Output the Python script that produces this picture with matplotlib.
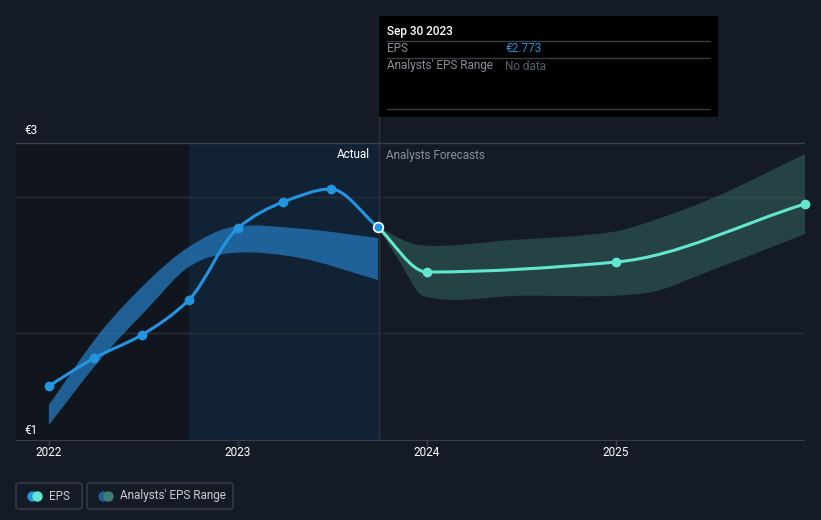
import numpy as np
import matplotlib.pyplot as plt
from matplotlib.path import Path
from matplotlib.patches import PathPatch, Rectangle, FancyBboxPatch

plt.rcParams['font.family'] = ['Roboto', 'DejaVu Sans']

# actual EPS (quarterly, fractional year)
actual_x = [2022.0, 2022.24, 2022.49, 2022.74, 2023.0, 2023.24, 2023.49, 2023.74]
actual_y = [1.369, 1.557, 1.711, 1.946, 2.430, 2.604, 2.691, 2.436]

# analyst forecast EPS
fc_x = [2023.74, 2024.0, 2025.0, 2026.0]
fc_y = [2.436, 2.134, 2.201, 2.591]

# past analyst range (read at a few dates)
past_rng_x = [2022.0, 2022.27, 2022.53, 2022.74, 2022.97, 2023.33, 2023.74]
past_hi = [1.242, 1.725, 2.081, 2.302, 2.436, 2.425, 2.362]
past_lo = [1.107, 1.544, 1.899, 2.168, 2.262, 2.228, 2.081]

# forecast analyst range
fc_rng_x = [2023.74, 2023.96, 2024.45, 2024.98, 2025.25, 2025.55, 2026.0]
fc_hi = [2.436, 2.315, 2.349, 2.403, 2.503, 2.651, 2.926]
fc_lo_x = [2023.74, 2023.86, 2023.98, 2024.49, 2025.16, 2025.51, 2026.0]
fc_lo = [2.436, 2.195, 1.973, 1.975, 1.993, 2.148, 2.389]

grid_y = [2.638, 1.725]
year_ticks = [2022, 2023, 2024, 2025]

BG = '#151b26'
BLUE = '#2394df'
TEAL = '#63e6d0'


def tangents(xs, ys, monotone):
    h = np.diff(xs)
    d = np.diff(ys) / h
    m = np.zeros_like(ys)
    m[0], m[-1] = d[0], d[-1]
    for i in range(1, len(xs) - 1):
        if monotone:
            if d[i - 1] * d[i] <= 0:
                m[i] = 0
            else:
                m[i] = 2 / (1 / d[i - 1] + 1 / d[i])
        else:
            m[i] = (ys[i + 1] - ys[i - 1]) / (xs[i + 1] - xs[i - 1])
    return m


def smooth_verts(xs, ys, monotone=True):
    # cubic through the points -> bezier control points
    xs = np.asarray(xs, float)
    ys = np.asarray(ys, float)
    h = np.diff(xs)
    m = tangents(xs, ys, monotone)
    verts = [(xs[0], ys[0])]
    codes = [Path.MOVETO]
    for i in range(len(xs) - 1):
        verts += [(xs[i] + h[i] / 3, ys[i] + m[i] * h[i] / 3),
                  (xs[i + 1] - h[i] / 3, ys[i + 1] - m[i + 1] * h[i] / 3),
                  (xs[i + 1], ys[i + 1])]
        codes += [Path.CURVE4] * 3
    return verts, codes


def band_path(xh, hi, xl, lo):
    v1, c1 = smooth_verts(xh, hi, False)
    v2, c2 = smooth_verts(xl[::-1], lo[::-1], False)
    c2[0] = Path.LINETO
    return Path(v1 + v2 + [v1[0]], c1 + c2 + [Path.CLOSEPOLY])


fig = plt.figure(figsize=(8.21, 5.2), dpi=100, facecolor=BG)
ax = fig.add_axes([16 / 821, 79 / 520, 789 / 821, 426 / 520])
ax.set_facecolor(BG)
x0, x1 = 2021.826, 2026.0
ax.set_xlim(x0, x1)
ax.set_ylim(1.0, 1 + 426 / 149)
for s in ax.spines.values():
    s.set_visible(False)
ax.set_xticks([])
ax.set_yticks([])

# shaded regions (below the top gridline only)
ax.fill_between([x0, 2022.74], 1.0, 3.0, color='#11161e', lw=0, zorder=0)
ax.fill_between([2022.74, 2023.745], 1.0, 3.0, color='#112235', lw=0, zorder=0)
ax.axvline(2023.745, color='#2c3440', lw=1, zorder=1)

# gridlines
ax.axhline(3.0, color='#3a404a', lw=1, zorder=1)
for gy in grid_y:
    ax.axhline(gy, color='#262d38', lw=1, zorder=1)
ax.axhline(1.0, color='#3a404a', lw=1.5, zorder=1)

# bands
ax.add_patch(PathPatch(band_path(past_rng_x, past_hi, past_rng_x, past_lo),
                       facecolor='#2479bd', alpha=0.75, lw=0, zorder=2))
ax.add_patch(PathPatch(band_path(fc_rng_x, fc_hi, fc_lo_x, fc_lo),
                       facecolor='#408276', alpha=0.38, lw=0, zorder=2))

# lines
v, c = smooth_verts(actual_x, actual_y)
ax.add_patch(PathPatch(Path(v, c), facecolor='none', edgecolor=BLUE, lw=2.2, zorder=3))
ax.plot(actual_x[:-1], actual_y[:-1], 'o', color=BLUE, ms=6, zorder=4)
v, c = smooth_verts(fc_x, fc_y)
ax.add_patch(PathPatch(Path(v, c), facecolor='none', edgecolor=TEAL, lw=2.2, zorder=3))
ax.plot(fc_x[1:], fc_y[1:], 'o', color=TEAL, ms=6, zorder=4, clip_on=False)
ax.plot(actual_x[-1], actual_y[-1], 'o', color=BLUE, ms=7, mec='white', mew=1.2, zorder=5)

# x ticks
for yr in year_ticks:
    ax.plot([yr, yr], [1.0, 1.0 - 4 / 149], color='#3a404a', lw=1, clip_on=False)
    ax.text(yr, 1.0 - 12 / 149, str(yr), color='white', fontsize=8.5,
            ha='center', va='center')

# y labels
ax.text(2021.868, 3.0 + 12 / 149, '€3', color='white', fontsize=8.5, va='center')
ax.text(2021.868, 1.0 + 11 / 149, '€1', color='white', fontsize=8.5, va='center')

ax.text(2023.70, 3.0 - 12 / 149, 'Actual', color='white', fontsize=8.5,
        ha='right', va='center')
ax.text(2023.785, 3.0 - 12 / 149, 'Analysts Forecasts', color='#8a9099',
        fontsize=8.5, ha='left', va='center')


# tooltip
def fx(px):
    return px / 821


def fy(py):
    return 1 - py / 520


fig.patches.append(Rectangle((fx(379), fy(117)), fx(339), 101 / 520,
                             transform=fig.transFigure, facecolor='black',
                             edgecolor='none', zorder=10))
fig.text(fx(387), fy(31), 'Sep 30 2023', color='white', fontsize=8.5,
         fontweight='medium', va='center', zorder=11)
for ly in [41, 58, 109]:
    fig.add_artist(plt.Line2D([fx(387), fx(710)], [fy(ly), fy(ly)],
                              color='#3a3d42', lw=1, transform=fig.transFigure, zorder=11))
fig.text(fx(387), fy(49), 'EPS', color='#8a8f96', fontsize=8.5, va='center', zorder=11)
fig.text(fx(505), fy(49), '€2.773', color=BLUE, fontsize=8.5, va='center', zorder=11)
fig.text(fx(387), fy(66), "Analysts' EPS Range", color='#8a8f96', fontsize=8.5,
         va='center', zorder=11)
fig.text(fx(505), fy(66), 'No data', color='#5b6068', fontsize=8.5, va='center', zorder=11)

# legend
for (lx, lw, label, c1, c2) in [(16, 66, 'EPS', BLUE, TEAL),
                                (87, 146, "Analysts' EPS Range", '#1f5f94', '#3c7d78')]:
    fig.patches.append(FancyBboxPatch((fx(lx), fy(509)), fx(lw), 26 / 520,
                                      boxstyle='round,pad=0,rounding_size=0.004',
                                      transform=fig.transFigure, facecolor='none',
                                      edgecolor='#3a404a', lw=1))
    fig.add_artist(plt.Line2D([fx(lx + 16)], [fy(496)], marker='o', ms=7.5,
                              color=c1, mec='none', transform=fig.transFigure))
    fig.add_artist(plt.Line2D([fx(lx + 21)], [fy(496)], marker='o', ms=7.5,
                              color=c2, mec='none', transform=fig.transFigure))
    fig.text(fx(lx + 33), fy(496), label, color='#c9ccd1', fontsize=8.5, va='center')

fig.savefig('out.png', dpi=100, facecolor=BG)
